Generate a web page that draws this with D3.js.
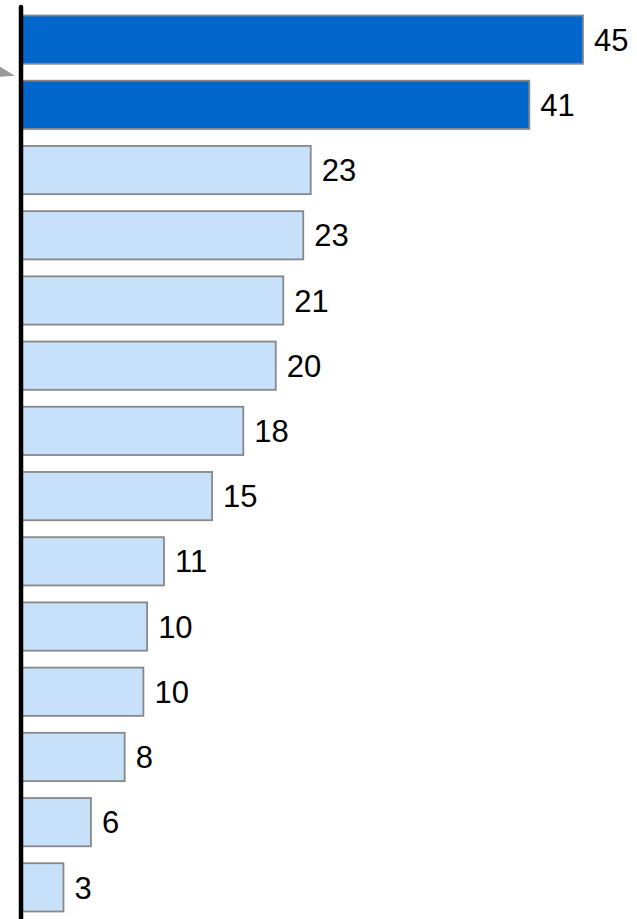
<!DOCTYPE html>
<head>
  <meta charset="utf-8">
  <script src="https://d3js.org/d3.v7.min.js"></script>
  <style>
    body { margin: 0; background: #fff; }
    .label { font-family: "Liberation Sans", Arial, sans-serif; font-size: 31px; fill: #000; }
    .bar { stroke: #888; stroke-width: 1.8px; }
  </style>
</head>
<body>
  <script>
    // data (categories have no visible labels)
    var categories = ["c1", "c2", "c3", "c4", "c5", "c6", "c7", "c8", "c9", "c10", "c11", "c12", "c13", "c14"];
    var values = [45.0, 40.7, 23.2, 22.6, 21.0, 20.4, 17.8, 15.3, 11.45, 10.1, 9.8, 8.3, 5.6, 3.4];
    var highlighted = ["c1", "c2"];

    var width = 637, height = 919;

    var svg = d3.select("body").append("svg")
      .attr("width", width)
      .attr("height", height);

    var x = d3.scaleLinear()
      .domain([0, 45])
      .range([21, 583]);

    var y = d3.scaleBand()
      .domain(categories)
      .range([15.5, 911.5])
      .paddingInner(0.26)
      .paddingOuter(0);

    var data = categories.map(function(c, i) { return { cat: c, value: values[i] }; });

    svg.append("g")
      .selectAll("rect")
      .data(data)
      .enter().append("rect")
      .attr("class", "bar")
      .attr("x", x(0))
      .attr("y", function(d) { return y(d.cat); })
      .attr("width", function(d) { return x(d.value) - x(0); })
      .attr("height", y.bandwidth())
      .attr("fill", function(d) { return highlighted.indexOf(d.cat) >= 0 ? "#0066cc" : "#c8e1fa"; });

    svg.append("g")
      .selectAll("text")
      .data(data)
      .enter().append("text")
      .attr("class", "label")
      .attr("x", function(d) { return x(d.value) + 11; })
      .attr("y", function(d) { return y(d.cat) + y.bandwidth() / 2; })
      .attr("dy", "0.36em")
      .text(function(d) { return d3.format(".0f")(d.value); });

    // axis line
    svg.append("line")
      .attr("x1", x(0)).attr("x2", x(0))
      .attr("y1", 7).attr("y2", height + 10)
      .attr("stroke", "#000")
      .attr("stroke-width", 4.5)
      .attr("stroke-linecap", "round");

    // leftover pointer tip between first two bars
    var gapY = y(categories[1]) - 5;
    svg.append("path")
      .attr("d", "M0," + (gapY - 9) + "L15," + gapY + "L0," + (gapY + 1) + "Z")
      .attr("fill", "#999");
  </script>
</body>
